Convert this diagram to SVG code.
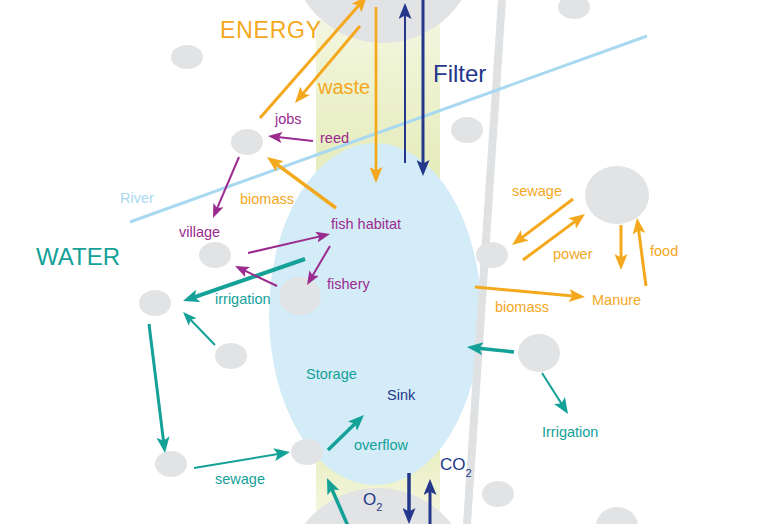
<svg xmlns="http://www.w3.org/2000/svg" width="784" height="524" viewBox="0 0 784 524">
<style>
text{font-family:"Liberation Sans",Arial,sans-serif;font-size:14.5px}
.c{fill:#e2e3e4}
.or{fill:#f4a81d}.pu{fill:#9b2b8f}.te{fill:#13a198}.nv{fill:#24378b}.rv{fill:#a9d9f1}
.ao{stroke:#f4a81d;fill:none}.ap{stroke:#9b2b8f;fill:none;stroke-width:2}.at{stroke:#13a198;fill:none}.an{stroke:#24378b;fill:none}
</style>
<defs>
<linearGradient id="bandTop" x1="0" y1="0" x2="0" y2="1">
<stop offset="0" stop-color="#f3f6df"/><stop offset="1" stop-color="#e3eab5"/>
</linearGradient>
<linearGradient id="bandBot" x1="0" y1="0" x2="0" y2="1">
<stop offset="0" stop-color="#e3eab5"/><stop offset="1" stop-color="#f4f6dc"/>
</linearGradient>
<marker id="hoL" markerUnits="userSpaceOnUse" viewBox="0 0 16 13" markerWidth="16" markerHeight="13" refX="7" refY="6.5" orient="auto"><path d="M0,0L16,6.5L0,13L3.5,6.5z" fill="#f4a81d"/></marker>
<marker id="htL" markerUnits="userSpaceOnUse" viewBox="0 0 16 13" markerWidth="16" markerHeight="13" refX="7" refY="6.5" orient="auto"><path d="M0,0L16,6.5L0,13L3.5,6.5z" fill="#13a198"/></marker>
<marker id="htS" markerUnits="userSpaceOnUse" viewBox="0 0 14 11" markerWidth="14" markerHeight="11" refX="7" refY="5.5" orient="auto"><path d="M0,0L14,5.5L0,11L3,5.5z" fill="#13a198"/></marker>
<marker id="hnL" markerUnits="userSpaceOnUse" viewBox="0 0 16 13" markerWidth="16" markerHeight="13" refX="7" refY="6.5" orient="auto"><path d="M0,0L16,6.5L0,13L3.5,6.5z" fill="#24378b"/></marker>
<marker id="hpS" markerUnits="userSpaceOnUse" viewBox="0 0 14 11" markerWidth="14" markerHeight="11" refX="7" refY="5.5" orient="auto"><path d="M0,0L14,5.5L0,11L3,5.5z" fill="#9b2b8f"/></marker>
</defs>
<rect width="784" height="524" fill="#ffffff"/>

<g id="bands">
<rect x="316" y="20" width="124" height="180" fill="url(#bandTop)"/>
<rect x="316" y="420" width="124" height="90" fill="url(#bandBot)"/>
</g>
<g id="wetland"><ellipse cx="375" cy="314" rx="106" ry="171" fill="#d3ecf8"/></g>
<g id="top-circle"><circle class="c" cx="383" cy="-50" r="93"/></g>
<g id="bottom-circle"><circle class="c" cx="378" cy="581" r="93"/></g>
<g id="road"><line x1="502" y1="0" x2="467" y2="524" stroke="#e0e1e3" stroke-width="8"/></g>
<g id="river"><line x1="130" y1="222" x2="647" y2="36" stroke="#a9d9f1" stroke-width="3"/></g>

<g id="n1"><ellipse class="c" cx="187" cy="57" rx="16" ry="12"/></g>
<g id="n2"><ellipse class="c" cx="247" cy="142" rx="16" ry="13"/></g>
<g id="n3"><ellipse class="c" cx="467" cy="130" rx="16" ry="13"/></g>
<g id="n4"><ellipse class="c" cx="574" cy="7" rx="16" ry="12"/></g>
<g id="n5"><ellipse class="c" cx="617" cy="195" rx="32" ry="29"/></g>
<g id="n6"><ellipse class="c" cx="492" cy="255" rx="16" ry="13"/></g>
<g id="n7"><ellipse class="c" cx="215" cy="255" rx="16" ry="13"/></g>
<g id="n8"><ellipse class="c" cx="155" cy="303" rx="16" ry="13"/></g>
<g id="n9"><ellipse class="c" cx="300" cy="296" rx="21" ry="19"/></g>
<g id="n10"><ellipse class="c" cx="231" cy="356" rx="16" ry="13"/></g>
<g id="n11"><ellipse class="c" cx="539" cy="353" rx="21" ry="19"/></g>
<g id="n12"><ellipse class="c" cx="171" cy="464" rx="16" ry="13"/></g>
<g id="n13"><ellipse class="c" cx="307" cy="452" rx="16" ry="13"/></g>
<g id="n14"><ellipse class="c" cx="498" cy="494" rx="16" ry="13"/></g>
<g id="n15"><ellipse class="c" cx="617" cy="526" rx="21" ry="19"/></g>

<g id="connectors">
<line class="ao" stroke-width="3" x1="260" y1="118" x2="361.1" y2="2.8" marker-end="url(#hoL)"/>
<line class="ao" stroke-width="3" x1="360" y1="26" x2="300.8" y2="96.1" marker-end="url(#hoL)"/>
<line class="ao" stroke-width="2.7" x1="376" y1="7" x2="376" y2="174" marker-end="url(#hoL)"/>
<line class="ao" stroke-width="3.5" x1="336" y1="208" x2="274.2" y2="162.3" marker-end="url(#hoL)"/>
<line class="ao" stroke-width="3" x1="573" y1="199" x2="519.2" y2="239.6" marker-end="url(#hoL)"/>
<line class="ao" stroke-width="3" x1="523" y1="260" x2="577.8" y2="219.4" marker-end="url(#hoL)"/>
<line class="ao" stroke-width="3" x1="621" y1="225" x2="621" y2="261" marker-end="url(#hoL)"/>
<line class="ao" stroke-width="3" x1="646" y1="286" x2="638.2" y2="226.9" marker-end="url(#hoL)"/>
<line class="ao" stroke-width="3" x1="475" y1="287" x2="576" y2="296.2" marker-end="url(#hoL)"/>

<line class="an" stroke-width="2" x1="405" y1="163" x2="405" y2="12" marker-end="url(#hnL)"/>
<line class="an" stroke-width="3" x1="423" y1="-2" x2="423" y2="167" marker-end="url(#hnL)"/>
<line class="an" stroke-width="3.5" x1="409" y1="473" x2="409" y2="515" marker-end="url(#hnL)"/>
<line class="an" stroke-width="3" x1="430" y1="526" x2="430" y2="488" marker-end="url(#hnL)"/>

<line class="at" stroke-width="4" x1="305" y1="259" x2="191.5" y2="298.1" marker-end="url(#htL)"/>
<line class="at" stroke-width="2" x1="215" y1="345" x2="187.9" y2="317" marker-end="url(#htS)"/>
<line class="at" stroke-width="3" x1="149" y1="324" x2="163.9" y2="444.1" marker-end="url(#htL)"/>
<line class="at" stroke-width="2" x1="194" y1="468" x2="281.1" y2="453.5" marker-end="url(#htL)"/>
<line class="at" stroke-width="3.5" x1="328" y1="450" x2="357.5" y2="421.3" marker-end="url(#htL)"/>
<line class="at" stroke-width="3.5" x1="348" y1="526" x2="330.6" y2="486.2" marker-end="url(#htL)"/>
<line class="at" stroke-width="3.5" x1="514" y1="352" x2="475.9" y2="348" marker-end="url(#htL)"/>
<line class="at" stroke-width="2" x1="542" y1="373" x2="563.2" y2="406.4" marker-end="url(#htL)"/>

<line class="ap" x1="313" y1="141" x2="275" y2="136.8" marker-end="url(#hpS)"/>
<line class="ap" x1="239" y1="157" x2="215.7" y2="211.6" marker-end="url(#hpS)"/>
<line class="ap" x1="248" y1="253" x2="323.2" y2="235.6" marker-end="url(#hpS)"/>
<line class="ap" x1="330" y1="246" x2="310.6" y2="279" marker-end="url(#hpS)"/>
<line class="ap" x1="277" y1="286" x2="241.3" y2="269" marker-end="url(#hpS)"/>
</g>

<g id="labels">
<text class="or" x="220" y="38" style="font-size:23px;letter-spacing:0.8px">ENERGY</text>
<text class="or" x="318" y="94" style="font-size:20px">waste</text>
<text class="nv" x="433" y="82" style="font-size:24px">Filter</text>
<text class="te" x="36" y="265" style="font-size:24px">WATER</text>
<text class="rv" x="120" y="203">River</text>
<text class="pu" x="275" y="124">jobs</text>
<text class="pu" x="320" y="143">reed</text>
<text class="or" x="240" y="204">biomass</text>
<text class="pu" x="179" y="237">village</text>
<text class="pu" x="331" y="229">fish habitat</text>
<text class="pu" x="327" y="289">fishery</text>
<text class="te" x="215" y="304">irrigation</text>
<text class="te" x="306" y="379">Storage</text>
<text class="nv" x="387" y="400">Sink</text>
<text class="te" x="354" y="450">overflow</text>
<text class="te" x="215" y="484">sewage</text>
<text class="nv" x="440" y="470" style="font-size:17px">CO<tspan dy="7" style="font-size:11px">2</tspan></text>
<text class="nv" x="363" y="505" style="font-size:17px">O<tspan dy="6" style="font-size:11px">2</tspan></text>
<text class="te" x="542" y="437">Irrigation</text>
<text class="or" x="512" y="196">sewage</text>
<text class="or" x="553" y="259">power</text>
<text class="or" x="650" y="256">food</text>
<text class="or" x="592" y="305">Manure</text>
<text class="or" x="495" y="312">biomass</text>
</g>
</svg>
